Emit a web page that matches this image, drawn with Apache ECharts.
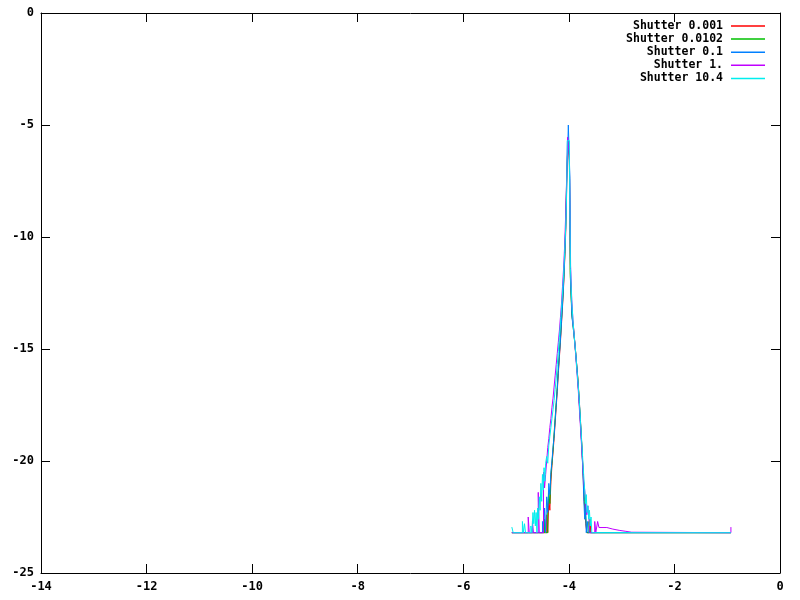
<!DOCTYPE html>
<html>
<head>
<meta charset="utf-8">
<script src="https://cdn.jsdelivr.net/npm/echarts@6/dist/echarts.min.js"></script>
<style>html,body{margin:0;padding:0;background:#fff;}#c{width:800px;height:600px;}</style>
</head>
<body>
<div id="c"></div>
<script>
const seriesNames = ['Shutter 0.001', 'Shutter 0.0102', 'Shutter 0.1', 'Shutter 1.', 'Shutter 10.4'];
const seriesColors = ['#ff0000', '#00c000', '#0080ff', '#c000ff', '#00eeee'];
const xTicks = [-14, -12, -10, -8, -6, -4, -2, 0];
const yTicks = [-25, -20, -15, -10, -5, 0];

const s0001 = [
[-5.08,-23.2],[-4.42,-22.4],[-4.40,-23.2],[-4.38,-21.7],[-4.36,-22.2],[-4.34,-20.9],[-4.32,-20.2],
[-4.30,-19.6],[-4.28,-19.0],[-4.26,-18.3],[-4.24,-17.6],[-4.22,-16.9],[-4.20,-16.1],[-4.18,-15.4],
[-4.16,-14.7],[-4.14,-13.9],[-4.12,-13.1],[-4.10,-12.2],[-4.08,-11.1],[-4.06,-9.8],[-4.04,-7.6],
[-4.02,-5.7],[-3.99,-6.6],[-3.97,-11.8],[-3.94,-13.5],[-3.91,-14.1],[-3.88,-14.9],[-3.855,-15.6],
[-3.83,-16.3],[-3.81,-17.0],[-3.79,-17.8],[-3.77,-18.6],[-3.75,-19.5],[-3.73,-20.5],[-3.715,-21.7],
[-3.70,-22.1],[-3.68,-22.8],[-3.66,-23.2],[-3.60,-22.6],[-3.585,-23.2],[-0.93,-23.2]
];
const s0102 = [
[-5.08,-23.2],[-4.46,-22.6],[-4.44,-23.2],[-4.40,-22.0],[-4.38,-21.4],[-4.36,-21.9],[-4.34,-20.6],
[-4.32,-20.1],[-4.30,-19.5],[-4.28,-18.8],[-4.26,-18.1],[-4.24,-17.4],[-4.22,-16.7],[-4.20,-15.9],
[-4.18,-15.2],[-4.16,-14.5],[-4.14,-13.7],[-4.12,-12.9],[-4.10,-12.0],[-4.08,-10.9],[-4.06,-9.5],
[-4.04,-7.2],[-4.02,-6.0],[-3.99,-6.3],[-3.975,-11.6],[-3.945,-13.4],[-3.915,-14.1],[-3.885,-14.8],
[-3.86,-15.5],[-3.835,-16.2],[-3.815,-16.9],[-3.795,-17.7],[-3.775,-18.5],[-3.755,-19.3],[-3.735,-20.3],
[-3.72,-21.0],[-3.70,-21.8],[-3.68,-22.5],[-3.66,-23.2],[-3.62,-22.7],[-3.60,-23.2],[-0.93,-23.2]
];
const s01 = [
[-5.08,-23.2],[-4.50,-22.7],[-4.48,-23.2],[-4.46,-22.1],[-4.44,-23.2],[-4.42,-21.6],[-4.40,-22.3],
[-4.38,-21.0],[-4.36,-21.5],[-4.34,-20.5],[-4.32,-20.0],[-4.30,-19.4],[-4.28,-18.9],[-4.26,-18.2],
[-4.24,-17.5],[-4.22,-16.8],[-4.20,-16.0],[-4.18,-15.3],[-4.16,-14.6],[-4.14,-13.8],[-4.12,-13.0],
[-4.10,-12.1],[-4.08,-11.0],[-4.06,-9.6],[-4.04,-7.4],[-4.02,-5.9],[-4.01,-5.0],[-3.98,-7.4],
[-3.965,-12.0],[-3.94,-13.6],[-3.91,-14.2],[-3.88,-14.9],[-3.855,-15.6],[-3.83,-16.4],[-3.81,-17.1],
[-3.79,-17.9],[-3.77,-18.7],[-3.75,-19.6],[-3.73,-20.7],[-3.715,-21.8],[-3.70,-22.6],[-3.685,-21.9],
[-3.67,-23.2],[-3.65,-22.7],[-3.635,-23.2],[-0.93,-23.2]
];
const s1 = [
[-5.08,-23.2],[-4.77,-22.5],[-4.75,-23.2],[-4.69,-22.7],[-4.67,-23.2],[-4.58,-21.4],[-4.56,-23.2],
[-4.48,-20.5],[-4.46,-21.2],[-4.44,-20.6],[-4.42,-20.0],[-4.40,-19.4],[-4.38,-19.0],[-4.36,-18.5],
[-4.34,-18.1],[-4.32,-17.6],[-4.30,-17.2],[-4.28,-16.7],[-4.26,-16.2],[-4.24,-15.7],[-4.22,-15.2],
[-4.20,-14.7],[-4.18,-14.2],[-4.16,-13.6],[-4.14,-13.0],[-4.12,-12.2],[-4.10,-11.4],[-4.08,-10.4],
[-4.06,-9.0],[-4.04,-7.2],[-4.025,-5.55],[-3.99,-6.4],[-3.97,-11.2],[-3.945,-12.8],[-3.92,-13.8],
[-3.895,-14.5],[-3.87,-15.3],[-3.845,-16.1],[-3.82,-16.9],[-3.80,-17.7],[-3.78,-18.5],[-3.76,-19.3],
[-3.74,-20.1],[-3.72,-20.9],[-3.70,-21.3],[-3.68,-21.9],[-3.66,-22.4],[-3.64,-22.0],[-3.62,-22.6],
[-3.60,-23.2],[-3.51,-22.7],[-3.49,-23.2],[-3.455,-22.7],[-3.43,-22.97],[-3.28,-23.04],[-3.167,-23.1],
[-3.034,-23.14],[-2.92,-23.18],[-2.81,-23.2],[-0.93,-22.95]
];
const s104 = [
[-5.08,-22.95],[-5.055,-23.2],[-4.88,-22.7],[-4.86,-23.2],[-4.84,-22.8],[-4.82,-23.2],[-4.72,-22.9],
[-4.70,-23.2],[-4.68,-22.3],[-4.665,-22.8],[-4.65,-22.2],[-4.635,-22.9],[-4.62,-22.3],[-4.605,-23.2],
[-4.59,-22.1],[-4.575,-22.6],[-4.56,-21.6],[-4.545,-22.2],[-4.53,-21.0],[-4.515,-21.8],[-4.50,-20.6],
[-4.485,-21.3],[-4.47,-20.3],[-4.455,-20.9],[-4.44,-20.1],[-4.42,-19.8],[-4.40,-20.1],[-4.38,-19.3],
[-4.36,-18.9],[-4.34,-18.5],[-4.32,-18.1],[-4.30,-17.7],[-4.28,-17.3],[-4.26,-16.8],[-4.24,-16.3],
[-4.22,-15.7],[-4.20,-15.1],[-4.18,-14.5],[-4.16,-13.9],[-4.14,-13.2],[-4.12,-12.5],[-4.10,-11.7],
[-4.08,-10.7],[-4.06,-9.6],[-4.04,-7.9],[-4.03,-5.7],[-3.99,-6.3],[-3.97,-11.4],[-3.945,-12.9],
[-3.92,-13.8],[-3.895,-14.5],[-3.87,-15.2],[-3.845,-16.0],[-3.82,-16.7],[-3.80,-17.4],[-3.78,-18.2],
[-3.76,-19.0],[-3.74,-19.8],[-3.72,-20.6],[-3.70,-21.3],[-3.685,-21.9],[-3.67,-21.5],[-3.655,-22.3],
[-3.64,-22.0],[-3.625,-22.6],[-3.61,-22.2],[-3.595,-22.9],[-3.58,-22.5],[-3.565,-23.2],[-0.93,-23.2]
];
const seriesData = [s0001, s0102, s01, s1, s104];

const FONT = '"DejaVu Sans Mono", "Liberation Mono", monospace';
const labelStyle = { color: '#000', fontFamily: FONT, fontWeight: 'bold', fontSize: 12 };

const chart = echarts.init(document.getElementById('c'), null, { renderer: 'canvas' });

function axisCommon(extra) {
  return Object.assign({
    type: 'value',
    axisLine: { show: true, onZero: false, lineStyle: { color: '#000', width: 1 } },
    axisTick: { show: true, inside: true, length: 9, lineStyle: { color: '#000', width: 1 } },
    splitLine: { show: false },
  }, extra);
}

chart.setOption({
  animation: false,
  backgroundColor: '#fff',
  grid: { left: 41, right: 20, top: 13, bottom: 27, show: false },
  legend: {
    orient: 'vertical',
    right: 35,
    top: 20,
    padding: 0,
    align: 'right',
    icon: 'rect',
    itemWidth: 34,
    itemHeight: 1.5,
    itemGap: 1.1,
    data: seriesNames,
    formatter: '{a|{name}}',
    textStyle: {
      color: '#000', fontFamily: FONT, fontWeight: 'bold', fontSize: 11.5,
      rich: { a: { width: 100, align: 'right', padding: [0, 3, 0, 0], color: '#000', fontFamily: FONT, fontWeight: 'bold', fontSize: 11.5, lineHeight: 13.2 } }
    }
  },
  xAxis: [
    axisCommon({ position: 'bottom', min: xTicks[0], max: xTicks[xTicks.length - 1], interval: 2,
      axisLabel: Object.assign({ margin: 8 }, labelStyle) }),
    axisCommon({ position: 'top', min: xTicks[0], max: xTicks[xTicks.length - 1], interval: 2,
      axisLabel: { show: false } })
  ],
  yAxis: [
    axisCommon({ position: 'left', min: yTicks[0], max: yTicks[yTicks.length - 1], interval: 5,
      axisLabel: Object.assign({ margin: 7 }, labelStyle) }),
    axisCommon({ position: 'right', min: yTicks[0], max: yTicks[yTicks.length - 1], interval: 5,
      axisLabel: { show: false } })
  ],
  series: seriesNames.map((name, i) => ({
    name: name,
    type: 'line',
    step: 'end',
    symbol: 'none',
    showSymbol: false,
    xAxisIndex: 0,
    yAxisIndex: 0,
    data: seriesData[i],
    color: seriesColors[i],
    lineStyle: { color: seriesColors[i], width: 1 },
    emphasis: { disabled: true }
  }))
});
</script>
</body>
</html>
